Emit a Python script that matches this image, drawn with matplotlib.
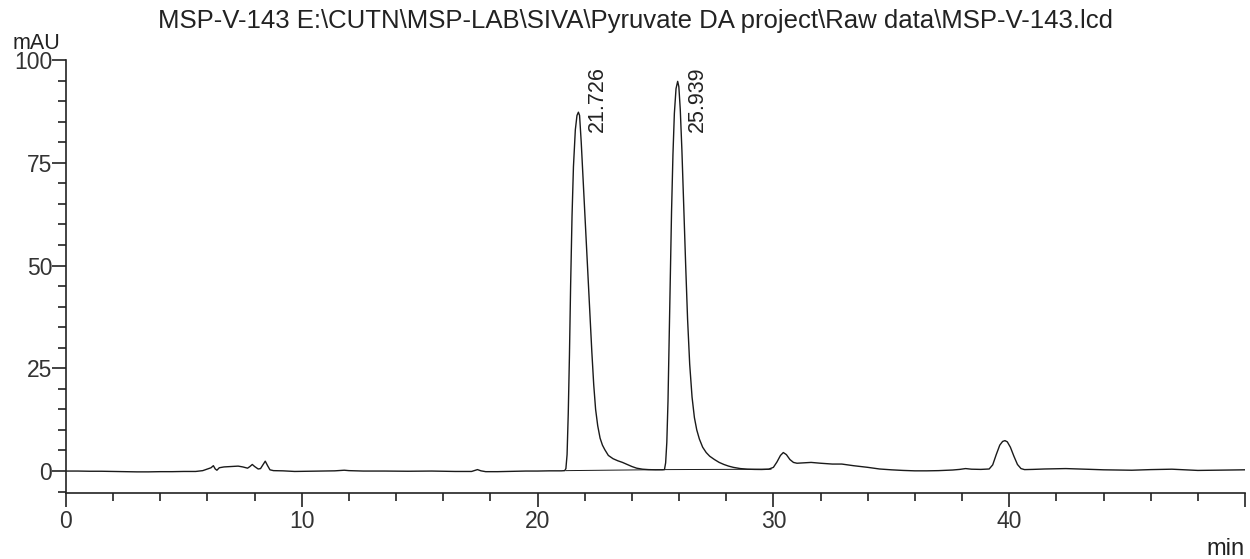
import matplotlib.pyplot as plt
from matplotlib.ticker import MultipleLocator, FixedLocator

plt.rcParams['font.family'] = ['Liberation Sans', 'DejaVu Sans']

# chromatogram trace (min, mAU)
time_min = [
    0.00, 0.50, 1.00, 1.50, 2.00, 2.50, 3.00, 3.50, 4.00, 4.50, 5.00, 5.50,
    5.80, 6.00, 6.15, 6.25, 6.33, 6.40, 6.50, 6.70, 7.00, 7.30, 7.50, 7.70,
    7.80, 7.90, 8.00, 8.15, 8.25, 8.35, 8.45, 8.55, 8.65, 8.80, 9.20, 9.70,
    10.20, 10.80, 11.40, 11.80, 12.00, 12.60, 13.50, 14.50, 15.50, 16.50,
    17.20, 17.45, 17.60, 17.80, 18.30, 19.00, 19.50, 20.00, 20.50, 21.00,
    21.15, 21.20, 21.25, 21.30, 21.35, 21.40, 21.46, 21.52, 21.60, 21.67,
    21.73, 21.78, 21.85, 21.92, 22.00, 22.08, 22.15, 22.22, 22.30, 22.38,
    22.46, 22.55, 22.65, 22.75, 22.85, 23.00, 23.20, 23.40, 23.60, 23.80,
    24.00, 24.20, 24.45, 24.70, 25.00, 25.30,
    25.38, 25.43, 25.48, 25.53, 25.58, 25.63, 25.68, 25.74, 25.80, 25.87,
    25.94, 25.99, 26.05, 26.12, 26.20, 26.28, 26.36, 26.45, 26.55, 26.65,
    26.75, 26.86, 27.00, 27.15, 27.30, 27.50, 27.70, 27.90, 28.10, 28.30,
    28.60, 28.90, 29.20, 29.50, 29.80, 30.00, 30.15, 30.30, 30.42, 30.55,
    30.70, 30.85, 31.00, 31.30, 31.60, 32.00, 32.50, 32.90, 33.40, 34.00,
    34.50, 35.00, 35.50, 36.00, 36.50, 37.00, 37.60, 37.90, 38.15, 38.40,
    38.80, 39.15, 39.30, 39.45, 39.60, 39.72, 39.82, 39.92, 40.05, 40.20,
    40.35, 40.50, 40.65, 41.00, 41.50, 42.00, 42.40, 43.00, 43.50, 44.00,
    44.50, 45.20, 46.00, 46.90, 47.50, 48.00, 48.80, 49.50, 50.00,
]
signal_mau = [
    0.00, 0.00, -0.05, -0.05, -0.10, -0.15, -0.20, -0.20, -0.15, -0.15, -0.10, -0.10,
    0.10, 0.50, 0.80, 1.30, 0.50, 0.20, 0.80, 1.00, 1.10, 1.20, 1.00, 0.70,
    1.10, 1.60, 1.10, 0.50, 0.60, 1.50, 2.40, 1.30, 0.30, 0.10, 0.05, -0.10,
    -0.05, 0.00, 0.05, 0.20, 0.10, 0.00, 0.00, -0.05, 0.00, -0.10,
    -0.10, 0.35, 0.05, -0.15, -0.15, -0.05, 0.00, 0.00, 0.05, 0.05,
    0.10, 0.60, 4.0, 14.0, 28.0, 45.0, 62.0, 74.0, 83.0, 86.5,
    87.3, 86.5, 80.0, 72.0, 63.0, 54.0, 46.0, 38.0, 29.0, 21.0,
    15.0, 11.0, 8.0, 6.3, 5.2, 3.8, 3.0, 2.5, 2.1, 1.6,
    1.1, 0.7, 0.45, 0.35, 0.30, 0.30,
    0.35, 2.0, 7.0, 17.0, 32.0, 48.0, 63.0, 77.0, 87.0, 93.0,
    94.8, 93.5, 88.0, 78.0, 64.0, 50.0, 37.0, 26.0, 18.0, 13.0,
    10.0, 7.8, 5.8, 4.5, 3.6, 2.8, 2.1, 1.6, 1.2, 0.9,
    0.6, 0.45, 0.40, 0.38, 0.45, 0.9, 2.2, 3.8, 4.5, 4.0,
    2.8, 2.1, 1.9, 2.0, 2.1, 1.9, 1.7, 1.7, 1.3, 0.9,
    0.5, 0.3, 0.15, 0.05, 0.05, 0.10, 0.25, 0.40, 0.60, 0.45,
    0.40, 0.50, 1.5, 4.0, 6.3, 7.2, 7.4, 7.1, 5.8, 3.6,
    1.6, 0.6, 0.35, 0.40, 0.50, 0.55, 0.60, 0.50, 0.40, 0.30,
    0.25, 0.20, 0.35, 0.45, 0.30, 0.15, 0.20, 0.25, 0.30,
]

# integration baseline drawn under the two main peaks
base_t = [21.20, 25.38, 29.90]
base_h = [0.10, 0.35, 0.45]

peak_rt = [21.726, 25.939]
peak_labels = ['21.726', '25.939']

title = r'MSP-V-143 E:\CUTN\MSP-LAB\SIVA\Pyruvate DA project\Raw data\MSP-V-143.lcd'

fig = plt.figure(figsize=(12.5, 5.59), dpi=100)
ax = fig.add_axes([0.0528, 0.118, 0.9432, 0.7747])

ax.plot(time_min, signal_mau, color='#1a1a1a', linewidth=1.0)
ax.plot(base_t, base_h, color='#1a1a1a', linewidth=0.7)

for rt, lab in zip(peak_rt, peak_labels):
    ax.annotate(lab, xy=(rt, 82.6), xytext=(14, 0), textcoords='offset points',
                rotation=90, ha='center', va='bottom', fontsize=15.5, color='#222222')

ax.set_xlim(0, 50)
ax.set_ylim(-5.35, 100)

ax.xaxis.set_major_locator(FixedLocator([0, 10, 20, 30, 40, 50]))
ax.set_xticklabels(['0', '10', '20', '30', '40', ''])
ax.xaxis.set_minor_locator(MultipleLocator(2))
ax.yaxis.set_major_locator(FixedLocator([0, 25, 50, 75, 100]))
ax.yaxis.set_minor_locator(MultipleLocator(5))

for s in ['top', 'right']:
    ax.spines[s].set_visible(False)
for s in ['left', 'bottom']:
    ax.spines[s].set_linewidth(1.2)
    ax.spines[s].set_color('#222222')

ax.tick_params(which='major', length=10, width=1.2, labelsize=16.5, colors='#222222', labelcolor='#333333')
ax.tick_params(axis='y', which='major', pad=0)
ax.tick_params(axis='x', which='major', pad=2)
ax.tick_params(which='minor', length=6, width=1.2, colors='#222222')

fig.text(635 / 1250, 0.95, title, fontsize=18.5, color='#222222', ha='center', va='baseline')
fig.text(13 / 1250, 0.912, 'mAU', fontsize=15.5, color='#222222', ha='left', va='baseline')
fig.text(1245 / 1250, 0.008, 'min', fontsize=17, color='#222222', ha='right', va='baseline')

fig.savefig('out.png', dpi=100)
